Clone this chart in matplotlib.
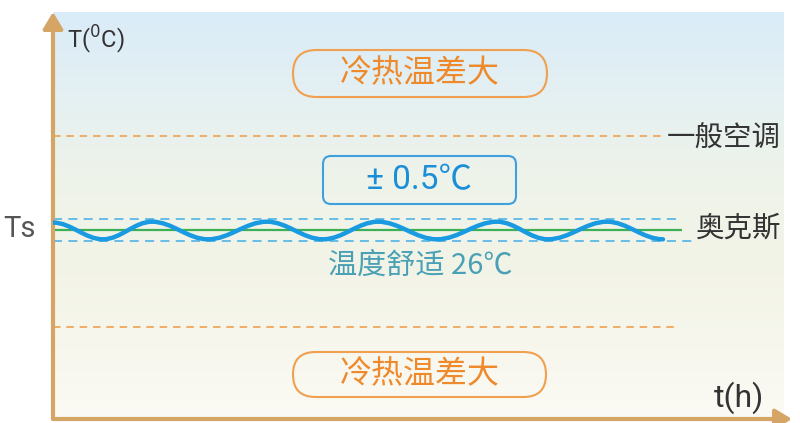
import matplotlib
matplotlib.use('Agg')
import matplotlib.pyplot as plt
import numpy as np
from matplotlib.path import Path
from matplotlib.patches import PathPatch, FancyBboxPatch
from matplotlib.colors import LinearSegmentedColormap

plt.rcParams['font.family'] = ['Noto Sans CJK SC', 'DejaVu Sans']

# temperature wave (turning points), t in h, T in degC
wave_t = [0.0, 0.50, 0.99, 1.55, 2.14, 2.70, 3.25, 3.84, 4.44, 4.95, 5.54, 6.10]
wave_T = [26.36, 25.6, 26.4, 25.6, 26.4, 25.6, 26.4, 25.6, 26.4, 25.6, 26.4, 25.6]

Ts = 26.0
band = 0.5
ac_high, ac_low = 30.3, 21.6

band_label = '± 0.5℃'
comfort_label = '温度舒适 26℃'
wide_label = '冷热温差大'
ac_label = '一般空调'
aux_label = '奥克斯'

W, H = 800, 423
fig = plt.figure(figsize=(W/100, H/100), dpi=100)
fig.patch.set_facecolor('white')

# axes = the shaded panel, pixels x 53..784, y 12..419
ax = fig.add_axes([53/W, 1-419/H, (784-53)/W, (419-12)/H])
ax.set_xlim(0, 7.31)
ax.set_ylim(Ts-(419-230.5)/22, Ts+(230.5-12)/22)
ax.axis('off')

grad = LinearSegmentedColormap.from_list('bg', [(0.0, '#fbfaf4'), (0.35, '#f3f4e7'),
                                               (0.6, '#eef3ea'), (0.8, '#e4f0f2'),
                                               (1.0, '#daecf9')])
ax.imshow(np.linspace(0, 1, 256).reshape(-1, 1), cmap=grad, origin='lower',
          extent=[*ax.get_xlim(), *ax.get_ylim()], aspect='auto', zorder=0)

orange = '#f0a050'
lblue = '#5cb8e6'
ax.hlines(ac_high, 0, 6.10, colors=orange, lw=1.2, linestyles=(0, (4.5, 3.5)), zorder=2)
ax.hlines(ac_low, 0, 6.24, colors=orange, lw=1.2, linestyles=(0, (4.5, 3.5)), zorder=2)
ax.hlines(Ts+band, 0, 6.27, colors=lblue, lw=1.3, linestyles=(0, (5, 3.5)), zorder=2)
ax.hlines(Ts-band, 0, 6.42, colors=lblue, lw=1.3, linestyles=(0, (5, 3.5)), zorder=2)
ax.hlines(Ts, 0, 6.29, colors='#3daf55', lw=1.6, zorder=3)

# smooth wave through the turning points
verts = [(wave_t[0], wave_T[0])]
codes = [Path.MOVETO]
for i in range(len(wave_t)-1):
    dx = wave_t[i+1] - wave_t[i]
    verts += [(wave_t[i]+0.36*dx, wave_T[i]), (wave_t[i+1]-0.36*dx, wave_T[i+1]),
              (wave_t[i+1], wave_T[i+1])]
    codes += [Path.CURVE4]*3
ax.add_patch(PathPatch(Path(verts, codes), fill=False, ec='#1a9ae0', lw=3.2,
                       capstyle='round', zorder=4))

# axis arrows
tan = '#d5a566'
arr = dict(arrowstyle='-|>,head_length=10,head_width=6', mutation_scale=1,
           color=tan, lw=3, shrinkA=0, shrinkB=0)
ax.annotate('', xy=(0, 1.0), xytext=(0, 0), xycoords='axes fraction',
            arrowprops=arr, annotation_clip=False)
ax.annotate('', xy=((792-53)/(784-53), 0), xytext=(0, 0), xycoords='axes fraction',
            arrowprops=arr, annotation_clip=False)


def box(x1, y1, x2, y2, r, ec):
    p = FancyBboxPatch((x1/100, (H-y2)/100), (x2-x1)/100, (y2-y1)/100,
                       boxstyle=f'round,pad=0,rounding_size={r/100}',
                       transform=fig.dpi_scale_trans, fc='none', ec=ec, lw=1.5)
    fig.add_artist(p)


def label(x, y, s, size, color, ha='center', family=None):
    kw = {}
    if family:
        kw['family'] = family
    fig.text(x/W, 1-y/H, s, fontsize=size, color=color, ha=ha, va='center', **kw)


latin = ['Roboto', 'Noto Sans CJK SC', 'DejaVu Sans']

box(293, 50, 547, 97, 23.5, orange)
box(293, 352, 546, 397, 22.5, orange)
box(323, 156, 516, 204, 8, '#3ea0dd')

label(420, 73, wide_label, 23, '#ee8a2c')
label(420, 374, wide_label, 23, '#ee8a2c')
label(419, 180, band_label, 24, '#1a8fd8', family=latin)
label(420, 266, comfort_label, 21, '#4aa0b4')
label(667, 139, ac_label, 20.5, '#333333', ha='left')
label(696, 229, aux_label, 20.5, '#333333', ha='left')
label(3, 229, 'Ts', 21, '#555555', ha='left', family=latin)
label(67, 40, 'T($^0$C)', 17, '#333333', ha='left', family=latin)
label(714, 398, 't(h)', 23, '#333333', ha='left', family=latin)

fig.savefig('out.png', dpi=100)
